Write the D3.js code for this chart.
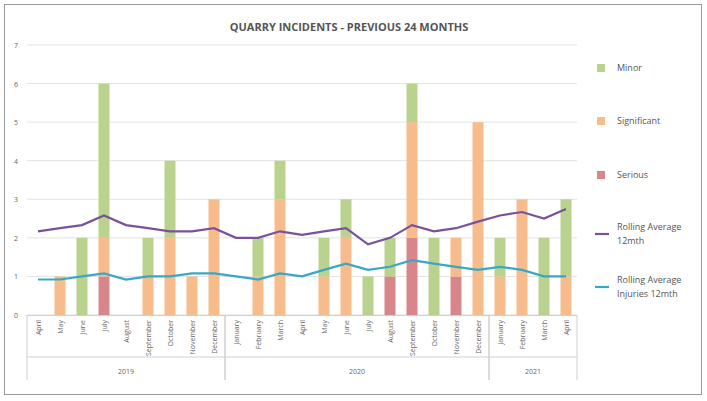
<!DOCTYPE html>
<html><head><meta charset="utf-8">
<script src="https://cdn.jsdelivr.net/npm/d3@7"></script>
<style>body{margin:0;background:#fff;font-family:"Open Sans",Calibri,sans-serif}</style>
</head><body>
<script>
const months = ["April","May","June","July","August","September","October","November","December",
  "January","February","March","April","May","June","July","August","September","October","November","December",
  "January","February","March","April"];
const years = [["2019",0,9],["2020",9,21],["2021",21,25]];
const serious     = [0,0,0,1,0,0,0,0,0, 0,0,0,0,0,0,0,1,2,0,1,0, 0,0,0,0];
const significant = [0,1,0,1,0,1,2,1,3, 0,1,3,0,1,2,0,0,3,0,1,5, 1,3,0,1];
const minor       = [0,0,2,4,0,1,2,0,0, 0,1,1,0,1,1,1,1,1,2,0,0, 1,0,2,2];
const rolling     = [2.17,2.25,2.33,2.58,2.33,2.25,2.17,2.17,2.25,2.0,2.0,2.17,2.08,2.17,2.25,1.83,2.0,2.33,2.17,2.25,2.42,2.58,2.67,2.5,2.75];
const injuries    = [0.92,0.92,1.0,1.08,0.92,1.0,1.0,1.08,1.08,1.0,0.92,1.08,1.0,1.17,1.33,1.17,1.25,1.42,1.33,1.25,1.17,1.25,1.17,1.0,1.0];
const yTicks = [0,1,2,3,4,5,6,7];

const W = 707, H = 401, L = 27, R = 577, T = 45, B = 315;
const svg = d3.select("body").append("svg").attr("width", W).attr("height", H);
svg.append("rect").attr("x",4.5).attr("y",4.5).attr("width",697).attr("height",390)
  .attr("fill","#fff").attr("stroke","#9a9a9a");

svg.append("text").attr("x",349).attr("y",31).attr("text-anchor","middle")
  .attr("font-size",11).attr("font-weight","bold").attr("fill","#555")
  .text("QUARRY INCIDENTS - PREVIOUS 24 MONTHS");

const x = d3.scaleBand().domain(d3.range(months.length)).range([L, R]).paddingInner(0.5).paddingOuter(0.25);
const y = d3.scaleLinear().domain([0, 7]).range([B, T]);

svg.append("g").selectAll("line").data(yTicks).enter().append("line")
  .attr("x1", L).attr("x2", R).attr("y1", d => y(d)).attr("y2", d => y(d))
  .attr("stroke", "#e3e3e3");
svg.append("g").selectAll("text").data(yTicks).enter().append("text")
  .attr("x", 18).attr("y", d => y(d) + 3).attr("text-anchor","end")
  .attr("font-size", 7).attr("fill","#666").text(d => d);

const keys = [["serious", serious, "#d9868a"], ["significant", significant, "#f7bc8c"], ["minor", minor, "#b9d38e"]];
const rows = months.map((m, i) => ({i, serious: serious[i], significant: significant[i], minor: minor[i]}));
const stack = d3.stack().keys(keys.map(k => k[0]))(rows);
svg.append("g").selectAll("g").data(stack).enter().append("g")
  .attr("fill", (d, k) => keys[k][2])
  .selectAll("rect").data(d => d).enter().append("rect")
  .attr("x", d => x(d.data.i)).attr("width", x.bandwidth())
  .attr("y", d => y(d[1])).attr("height", d => y(d[0]) - y(d[1]));

const line = d3.line().x((d, i) => x(i) + x.bandwidth() / 2).y(d => y(d));
svg.append("path").datum(rolling).attr("d", line).attr("fill","none").attr("stroke","#7a529c").attr("stroke-width",2.2);
svg.append("path").datum(injuries).attr("d", line).attr("fill","none").attr("stroke","#3aa8c4").attr("stroke-width",2.2);

// category axis
const ax = svg.append("g").attr("font-size", 7).attr("fill","#666");
ax.append("line").attr("x1",L).attr("x2",R).attr("y1",B+0.5).attr("y2",B+0.5).attr("stroke","#d0d0d0");
ax.selectAll("text.m").data(months).enter().append("text")
  .attr("transform", (d, i) => `translate(${x(i) + x.bandwidth()/2 + 2.5},${B + 5}) rotate(-90)`)
  .attr("text-anchor","end").text(d => d);
const step = x.step();
const edge = i => L + x.paddingOuter() * step + i * step - step * x.paddingInner() / 2;
years.forEach(([yr, a, b]) => {
  const x0 = a === 0 ? L : edge(a), x1 = b === months.length ? R : edge(b);
  ax.append("line").attr("x1", x0).attr("x2", x0).attr("y1", B).attr("y2", 380).attr("stroke","#d0d0d0");
  ax.append("line").attr("x1", x1).attr("x2", x1).attr("y1", B).attr("y2", 380).attr("stroke","#d0d0d0");
  ax.append("text").attr("x", (x0 + x1) / 2).attr("y", 374).attr("text-anchor","middle").text(yr);
});
ax.append("line").attr("x1",L).attr("x2",R).attr("y1",357).attr("y2",357).attr("stroke","#d0d0d0");

// legend
const legend = [["Minor", "#b9d38e", "box", 68], ["Significant", "#f7bc8c", "box", 121], ["Serious", "#d9868a", "box", 175],
  ["Rolling Average|12mth", "#7a529c", "line", 227], ["Rolling Average|Injuries 12mth", "#3aa8c4", "line", 280]];
const lg = svg.append("g").attr("font-size", 9).attr("fill","#555");
legend.forEach(([t, c, kind, ly]) => {
  const lines = t.split("|");
  const cy = ly + (lines.length - 1) * 7;
  if (kind === "box") lg.append("rect").attr("x",597).attr("y",cy-4).attr("width",8).attr("height",8).attr("fill",c);
  else lg.append("line").attr("x1",595).attr("x2",609).attr("y1",cy).attr("y2",cy).attr("stroke",c).attr("stroke-width",2.2);
  lines.forEach((s, j) => lg.append("text").attr("x",617).attr("y", ly + 3 + j * 14).text(s));
});
</script>
</body></html>
